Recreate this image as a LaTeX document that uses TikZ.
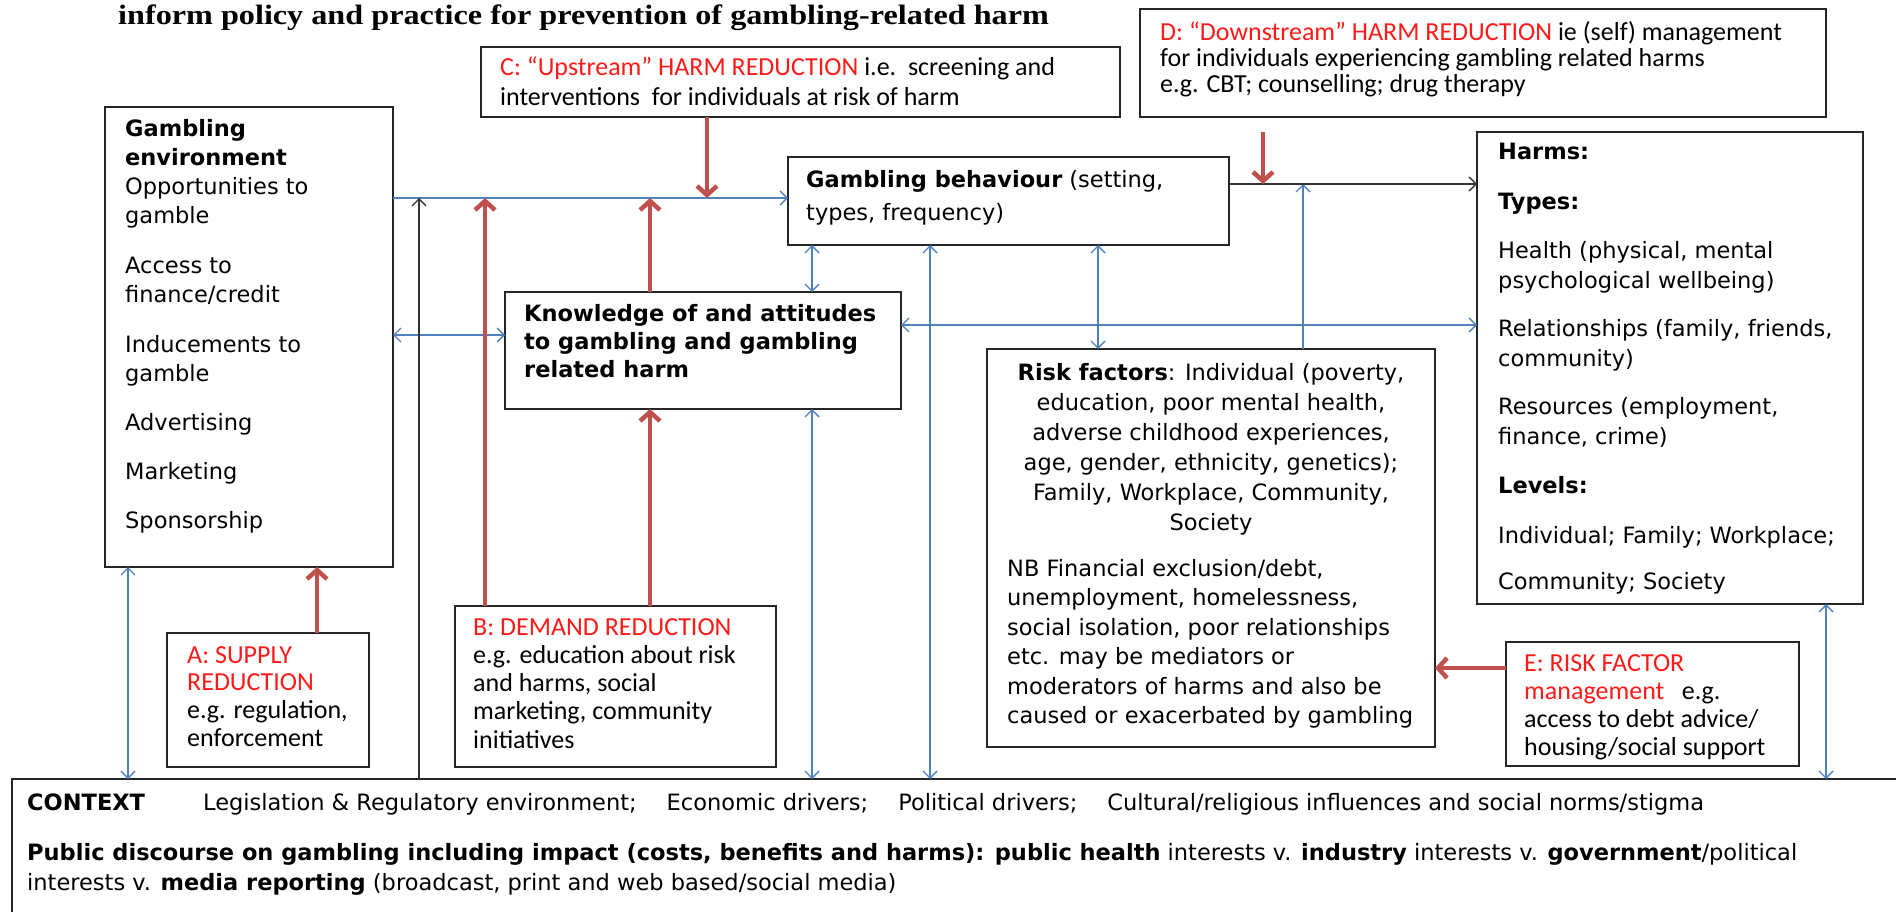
\documentclass[tikz,border=0pt]{standalone}
\usepackage{fontspec}
\setmainfont{DejaVu Sans}
\newfontfamily\carlfont{Carlito}
\newfontfamily\ttlfont[FakeStretch=1.15]{Liberation Serif}
\usetikzlibrary{arrows.meta,calc}
\definecolor{arblue}{HTML}{4F81BD}
\definecolor{arred}{HTML}{C0504D}
\definecolor{txtred}{HTML}{FF1A1A}
\newcommand\rd[1]{\textcolor{txtred}{#1}}
\begin{document}
\begin{tikzpicture}[x=1pt,y=-1pt,
  box/.style={draw=black!85, line width=1.6pt, inner sep=0pt, outer sep=0pt},
  txt/.style={anchor=north west, inner sep=0pt, align=left},
  bl/.style={draw=arblue, line width=1.4pt},
  blA/.style={bl, -{Straight Barb[length=7pt,width=14pt]}},
  blAA/.style={bl, {Straight Barb[length=7pt,width=14pt]}-{Straight Barb[length=7pt,width=14pt]}},
  rdA/.style={draw=arred, line width=4.5pt, -{Straight Barb[length=9pt,width=20pt]}},
  bkA/.style={draw=black!80, line width=1.3pt, -{Straight Barb[length=7pt,width=14pt]}}]
\clip (0,0) rectangle (1896,912);
\fill[white] (0,0) rectangle (1896,912);

% title
\node[anchor=base west, inner sep=0pt, font=\ttlfont\bfseries\fontsize{28}{30}\selectfont] (title) at (118,25)
  {inform policy and practice for prevention of gambling-related harm};

% boxes
\node[box, minimum width=288pt, minimum height=460pt] (env) at (249,337) {};
\node[box, minimum width=441pt, minimum height=88pt] (beh) at (1008.5,201) {};
\node[box, minimum width=396pt, minimum height=117pt] (know) at (703,350.5) {};
\node[box, minimum width=448pt, minimum height=398pt] (risk) at (1211,548) {};
\node[box, minimum width=386pt, minimum height=472pt] (harms) at (1670,368) {};
\node[box, minimum width=639pt, minimum height=70pt] (C) at (800.5,82) {};
\node[box, minimum width=686pt, minimum height=108pt] (D) at (1483,63) {};
\node[box, minimum width=202pt, minimum height=134pt] (A) at (268,700) {};
\node[box, minimum width=321pt, minimum height=161pt] (B) at (615.5,686.5) {};
\node[box, minimum width=293pt, minimum height=124pt] (E) at (1652.5,704) {};
\node[box, minimum width=1898pt, minimum height=151pt] (ctx) at (961,854.5) {};

% texts
\node[txt, font=\fontsize{22.5}{29}\selectfont] (envT) at (125,119)
  {\textbf{Gambling}\\ \textbf{environment}\\ Opportunities to\\ gamble\\[21pt]
   Access to\\ finance/credit\\[21pt] Inducements to\\ gamble\\[20pt]
   Advertising\\[20pt] Marketing\\[20pt] Sponsorship};
\node[txt, font=\fontsize{22.5}{33}\selectfont] (behT) at (806,170)
  {\textbf{Gambling behaviour} (setting,\\ types, frequency)};
\node[txt, font=\fontsize{22.5}{28}\selectfont] (knowT) at (524,304)
  {\textbf{Knowledge of and attitudes}\\ \textbf{to gambling and gambling}\\ \textbf{related harm}};
\node[anchor=north, inner sep=0pt, align=center, font=\fontsize{22.5}{30}\selectfont] (riskT) at (1211,363)
  {\textbf{Risk factors}: Individual (poverty,\\ education, poor mental health,\\
   adverse childhood experiences,\\ age, gender, ethnicity, genetics);\\
   Family, Workplace, Community,\\ Society};
\node[txt, font=\fontsize{22.5}{29.5}\selectfont] (riskN) at (1007,559)
  {NB Financial exclusion/debt,\\ unemployment, homelessness,\\ social isolation, poor relationships\\
   etc. may be mediators or\\ moderators of harms and also be\\ caused or exacerbated by gambling};
\node[txt, font=\fontsize{22.5}{29.5}\selectfont] (harmsT) at (1498,143)
  {\textbf{Harms:}\\[20pt] \textbf{Types:}\\[20pt] Health (physical, mental\\ psychological wellbeing)\\[19pt]
   Relationships (family, friends,\\ community)\\[19pt] Resources (employment,\\ finance, crime)\\[20pt]
   \textbf{Levels:}\\[20pt] Individual; Family; Workplace;\\[17pt] Community; Society};
\node[txt, font=\carlfont\fontsize{26}{30}\selectfont] (CT) at (500,57)
  {\rd{C: “Upstream” HARM REDUCTION} i.e.\ \ screening and\\ interventions\ \ for individuals at risk of harm};
\node[txt, font=\carlfont\fontsize{26}{26}\selectfont] (DT) at (1160,21)
  {\rd{D: “Downstream” HARM REDUCTION} ie (self) management\\ for individuals experiencing gambling related harms\\
   e.g. CBT; counselling; drug therapy};
\node[txt, font=\carlfont\fontsize{26}{27.7}\selectfont] (AT) at (187,646)
  {\rd{A: SUPPLY}\\ \rd{REDUCTION}\\ e.g. regulation,\\ enforcement};
\node[txt, font=\carlfont\fontsize{26}{28.3}\selectfont] (BT) at (473,618)
  {\rd{B: DEMAND REDUCTION}\\ e.g. education about risk\\ and harms, social\\ marketing, community\\ initiatives};
\node[txt, font=\carlfont\fontsize{26}{28}\selectfont] (ET) at (1524,654)
  {\rd{E: RISK FACTOR}\\ \rd{management}\ \ \ e.g.\\ access to debt advice/\\ housing/social support};
\node[txt, font=\fontsize{22.5}{30}\selectfont] (ctxT) at (27,793)
  {\makebox[176pt][l]{\textbf{CONTEXT}}Legislation \& Regulatory environment;\hspace{30pt}%
   Economic drivers;\hspace{30pt}Political drivers;\hspace{30pt}%
   Cultural/religious influences and social norms/stigma\\[20pt]
   \textbf{Public discourse on gambling including impact (costs, benefits and harms): public health} interests v. \textbf{industry} interests v. \textbf{government}/political\\
   interests v. \textbf{media reporting} (broadcast, print and web based/social media)};

% level coordinates
\coordinate (lvA) at (0,198);
\coordinate (lvB) at (0,184);
\coordinate (lvC) at (0,325);
\coordinate (lvD) at (0,335);
\coordinate (lvE) at (0,668);
\coordinate (xa) at (128,0);
\coordinate (xb) at (317,0);
\coordinate (xc) at (419,0);
\coordinate (xd) at (485,0);
\coordinate (xe) at (650,0);
\coordinate (xf) at (707,0);
\coordinate (xg) at (812,0);
\coordinate (xh) at (930,0);
\coordinate (xi) at (1098,0);
\coordinate (xj) at (1263,0);
\coordinate (xk) at (1303,0);
\coordinate (xl) at (1826,0);

% blue connectors
\draw[blA] (env.east |- lvA) -- (beh.west |- lvA);
\draw[blA] (xk |- risk.north) -- (xk |- lvB);
\draw[blAA] (know.east |- lvC) -- (harms.west |- lvC);
\draw[blAA] (env.east |- lvD) -- (know.west |- lvD);
\draw[blAA] (xg |- beh.south) -- (xg |- know.north);
\draw[blAA] (xi |- beh.south) -- (xi |- risk.north);
\draw[blAA] (xh |- beh.south) -- (xh |- ctx.north);
\draw[blAA] (xg |- know.south) -- (xg |- ctx.north);
\draw[blAA] (xa |- env.south) -- (xa |- ctx.north);
\draw[blAA] (xl |- harms.south) -- (xl |- ctx.north);
% black connectors
\draw[bkA] (xc |- ctx.north) -- (xc |- lvA);
\draw[bkA] (beh.east |- lvB) -- (harms.west |- lvB);
% red connectors
\draw[rdA] (xd |- B.north) -- (xd |- lvA);
\draw[rdA] (xe |- B.north) -- (xe |- know.south);
\draw[rdA] (xe |- know.north) -- (xe |- lvA);
\draw[rdA] (xf |- C.south) -- (xf |- lvA);
\draw[rdA] (xb |- A.north) -- (xb |- env.south);
\draw[rdA] (E.west |- lvE) -- (risk.east |- lvE);
\draw[rdA] ($(xj |- D.south)+(0,15)$) -- (xj |- lvB);
\end{tikzpicture}
\end{document}
